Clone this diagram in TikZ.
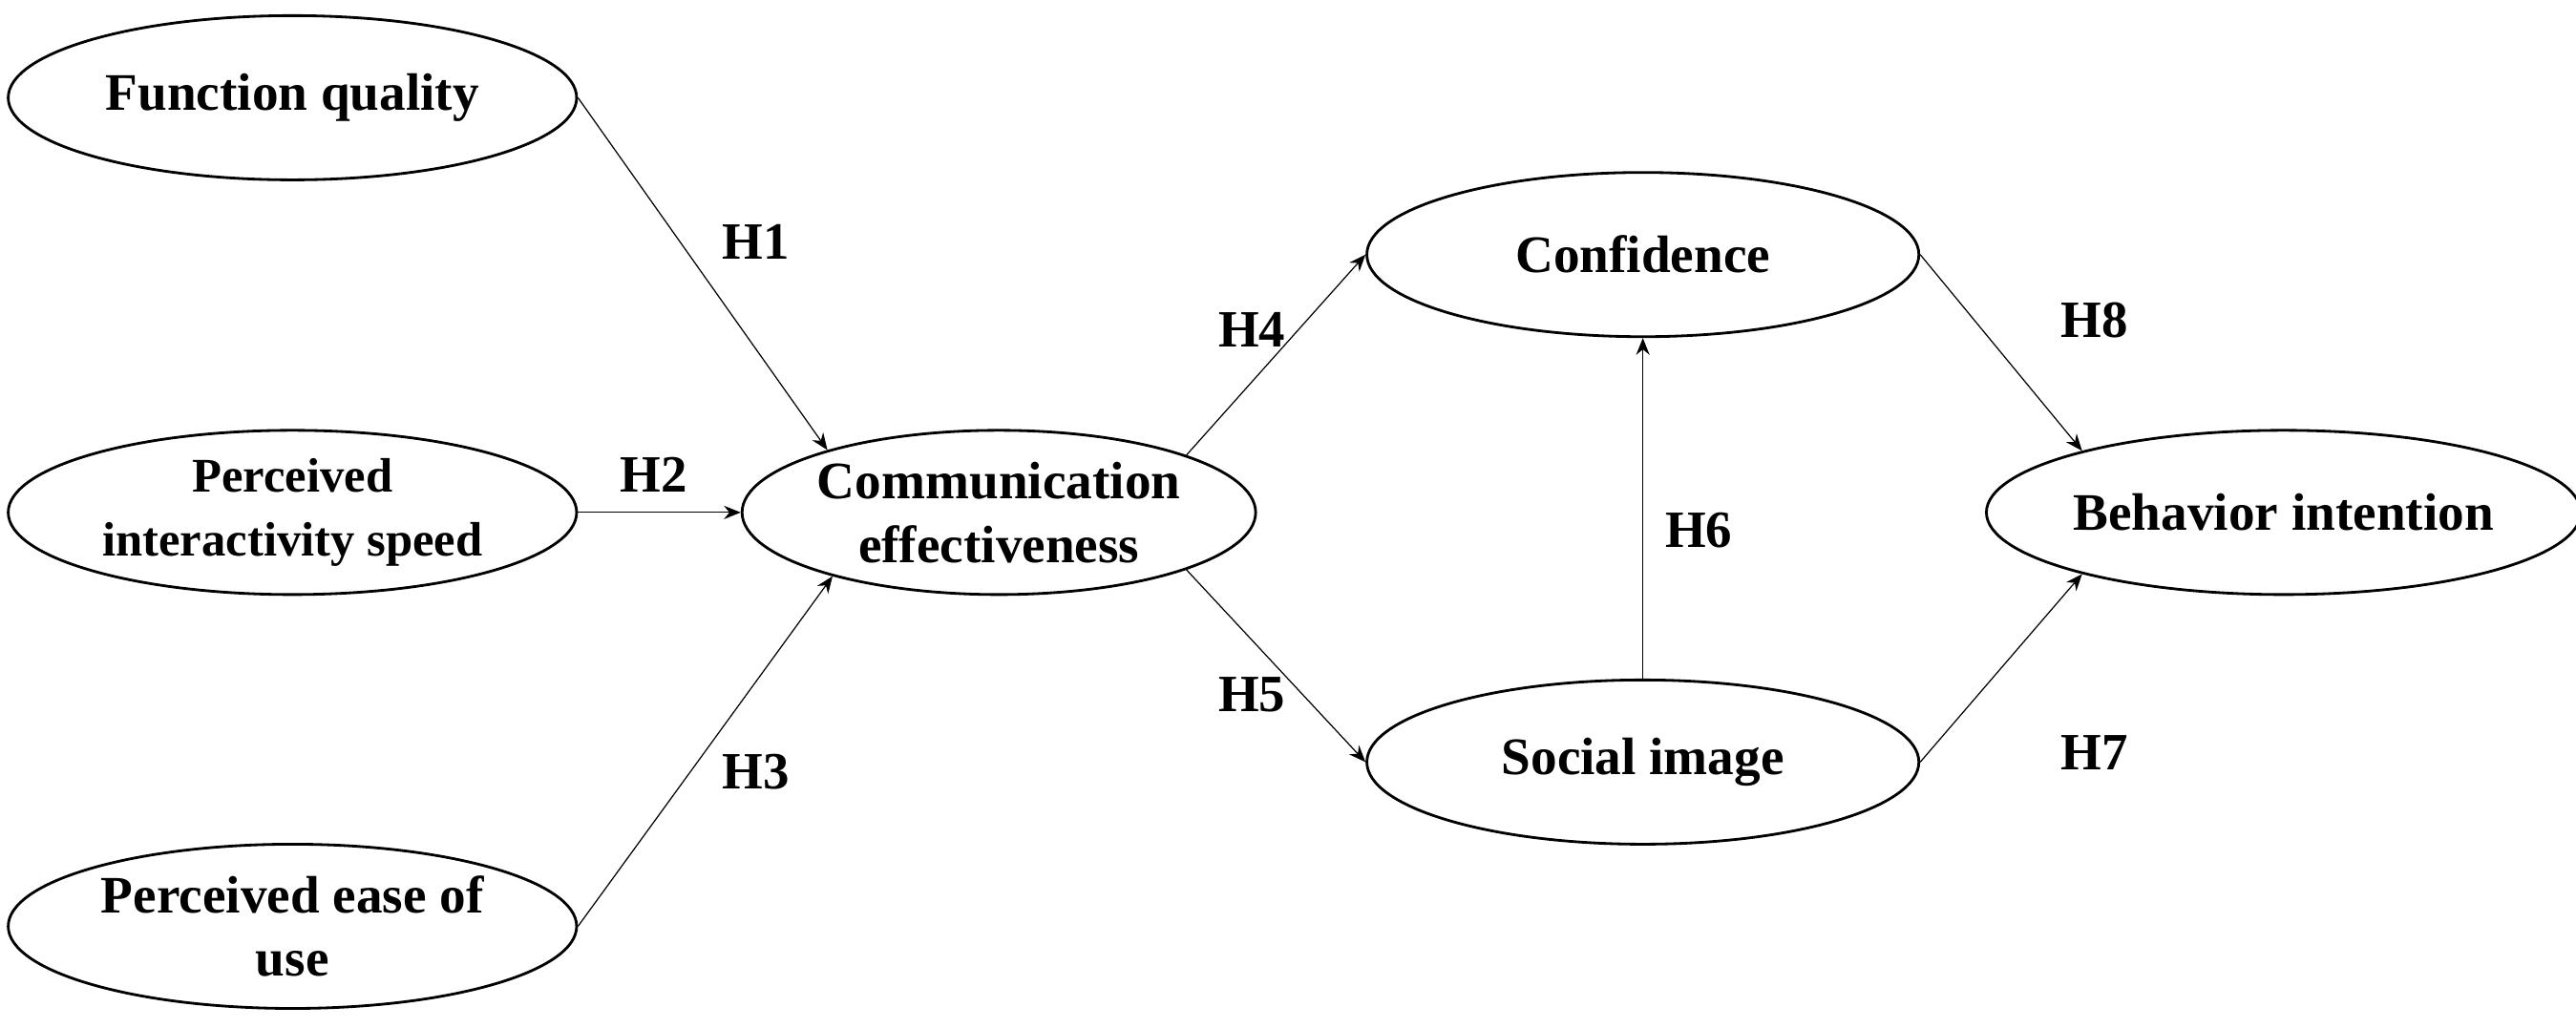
\documentclass[tikz,border=0pt]{standalone}
\usepackage{fontspec}
\setmainfont{Liberation Serif}
\usetikzlibrary{shapes.geometric,arrows.meta}
\begin{document}
\begin{tikzpicture}[x=0.0172cm,y=-0.0172cm,
  el/.style={draw,ellipse,line width=0.8pt,minimum width=#1*0.0172cm,minimum height=100*0.0172cm,inner sep=0pt,align=center,font=\bfseries\fontsize{15.7}{19}\selectfont},
  el/.default=346,
  lab/.style={font=\bfseries\fontsize{15.6}{19}\selectfont},
  ar/.style={-{Stealth[length=5pt,width=4pt]},line width=0.35pt}]
\useasboundingbox (0,0) rectangle (1568,625.4);
\node[el] (fq) at (178,59.5) {Function quality};
\node[el] (pis) at (178,312) {\fontsize{14.4}{19}\selectfont Perceived\\\fontsize{14.4}{19}\selectfont interactivity speed};
\node[el] (peu) at (178,564) {Perceived ease of\\use};
\node[el=306] (ce) at (608,312) {Communication\\effectiveness};
\node[el=336] (cf) at (1000,155) {Confidence};
\node[el=336] (si) at (1000,464) {Social image};
\node[el=336] (bi) at (1390,312) {Behavior intention};
\draw[ar] (fq.east) -- (ce.160);
\draw[ar] (pis.east) -- (ce.west);
\draw[ar] (peu.east) -- (ce.201);
\draw[ar] (ce.17) -- (cf.west);
\draw[ar] (ce.-17) -- (si.west);
\draw[ar] (si.north) -- (cf.south);
\draw[ar] (cf.east) -- (bi.163);
\draw[ar] (si.east) -- (bi.197);
\node[lab] (h1) at (460,147) {H1};
\node[lab] (h2) at (398,289) {H2};
\node[lab] (h3) at (460,470) {H3};
\node[lab] (h4) at (762,201) {H4};
\node[lab] (h5) at (762,423) {H5};
\node[lab] (h6) at (1034,323) {H6};
\node[lab] (h7) at (1275,458) {H7};
\node[lab] (h8) at (1275,195) {H8};
\end{tikzpicture}
\end{document}
